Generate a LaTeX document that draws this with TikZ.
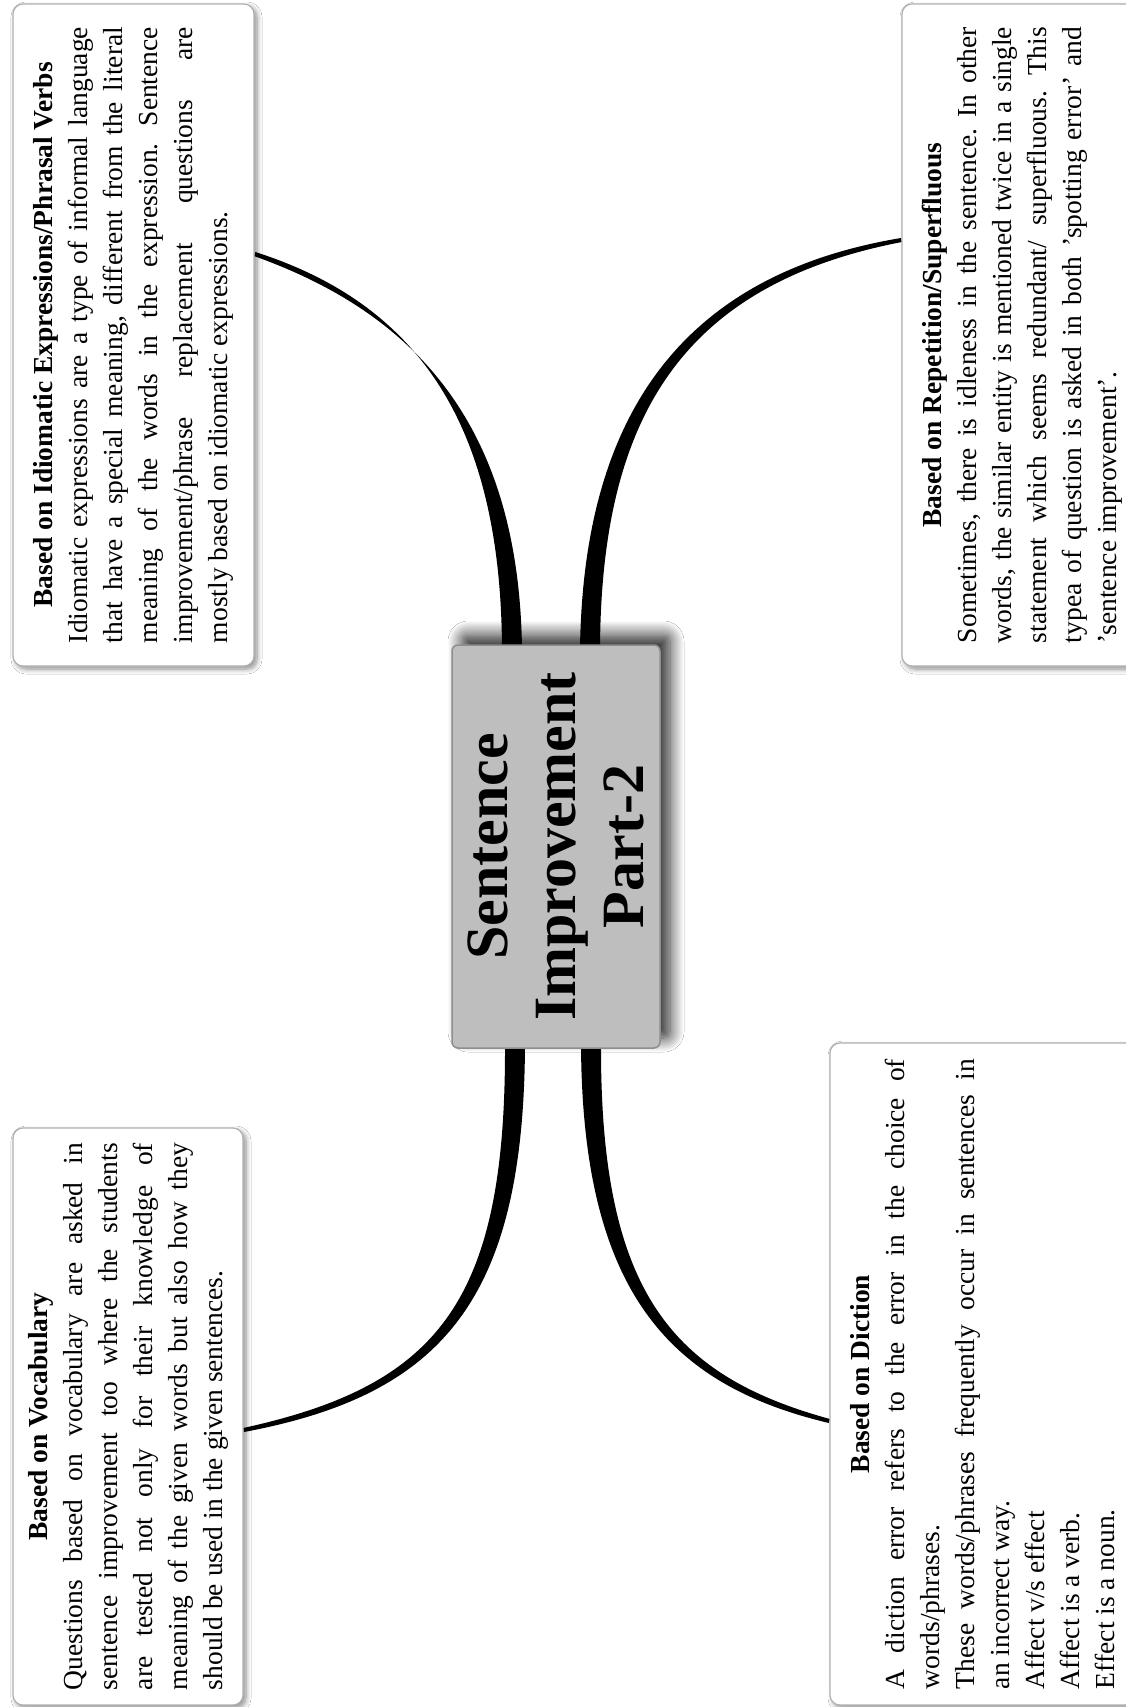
\documentclass[tikz,border=0pt]{standalone}
\usepackage{fontspec}
\setmainfont{Liberation Serif}
\usetikzlibrary{calc,shadows.blur}
\pgfdeclarelayer{bg}
\pgfsetlayers{bg,main}
\definecolor{hubfill}{HTML}{BEBEBE}
\definecolor{hubline}{HTML}{8E8E8E}
\definecolor{boxline}{HTML}{B0B0B0}
\tikzset{
  leaf/.style={rotate=90, draw=boxline, fill=white, line width=1.2pt,
    rounded corners=10pt, align=justify, inner ysep=0pt,
    font=\fontsize{27.5}{35}\selectfont\frenchspacing,
    blur shadow={shadow xshift=3pt, shadow yshift=-3pt, shadow blur radius=5pt,
      shadow blur steps=8, shadow opacity=45}},
  hubbox/.style={rotate=90, draw=hubline, fill=hubfill, line width=1.5pt,
    rounded corners=6pt, align=center, inner sep=0pt,
    font=\fontsize{60}{68}\selectfont\bfseries,
    blur shadow={shadow xshift=10pt, shadow yshift=10pt, shadow blur radius=14pt,
      shadow blur steps=14, shadow opacity=85}},
  conn/.style={fill=black}
}
\newcommand\boxtitle[1]{\makebox[\linewidth]{\bfseries #1}\par}
\begin{document}
\begin{tikzpicture}[x=1pt,y=-1pt]
\useasboundingbox (0,0) rectangle (1126,1707);

% central topic
\node[hubbox, minimum width=403pt, minimum height=208pt] (hub) at (556,846.5)
  {Sentence\\Improvement\\Part-2};

% branch boxes
\node[leaf, text width=616pt, inner xsep=23pt, minimum height=241pt] (A) at (133.5,335) {%
\boxtitle{Based on Idiomatic Expressions/Phrasal Verbs}%
Idiomatic expressions are a type of informal language\linebreak
that have a special meaning, different from the literal\linebreak
meaning of the words in the expression. Sentence\linebreak
improvement/phrase replacement questions are\linebreak
mostly based on idiomatic expressions.};

\node[leaf, text width=616pt, inner xsep=23pt, minimum height=241pt] (B) at (1022.5,335) {%
\boxtitle{Based on Repetition/Superfluous}%
Sometimes, there is idleness in the sentence. In other\linebreak
words, the similar entity is mentioned twice in a single\linebreak
statement which seems redundant/ superfluous. This\linebreak
typea of question is asked in both ’spotting error’ and\linebreak
’sentence improvement’.};

\node[leaf, text width=547pt, inner xsep=15pt, minimum height=230pt] (C) at (128,1416.5) {%
\boxtitle{Based on Vocabulary}%
Questions based on vocabulary are asked in\linebreak
sentence improvement too where the students\linebreak
are tested not only for their knowledge of\linebreak
meaning of the given words but also how they\linebreak
should be used in the given sentences.};

\node[leaf, text width=630pt, inner xsep=16pt, minimum height=305pt] (D) at (982.5,1374) {%
\boxtitle{Based on Diction}%
A diction error refers to the error in the choice of\linebreak
words/phrases.\par
These words/phrases frequently occur in sentences in\linebreak
an incorrect way.\par
Affect v/s effect\par
Affect is a verb.\par
Effect is a noun.};

% connector end points
\coordinate (sA) at ($(hub.east)+(-44,5)$);
\coordinate (sB) at ($(hub.east)+(34,5)$);
\coordinate (sC) at ($(hub.west)+(-41,-5)$);
\coordinate (sD) at ($(hub.west)+(35,-5)$);
\coordinate (eA) at ($(A.south)+(0,-81)$);
\coordinate (eB) at ($(B.north)+(0,-95)$);
\coordinate (eC) at ($(C.south)+(0,13.5)$);
\coordinate (eD) at ($(D.north)+(0,47)$);

% page background and tapered branches behind the boxes
\begin{pgfonlayer}{bg}
\fill[white] (0,0) rectangle (1126,1707);
\fill[conn] ($(sA)+(-10,0)$) .. controls ($(sA)+(-11,-220)$) and ($(eA)+(167.6,51.3)$) .. ($(eA)+(0.7,-2)$)
  -- ($(eA)+(-0.7,2)$) .. controls ($(eA)+(164.4,60.7)$) and ($(sA)+(7,-220)$) .. ($(sA)+(10,0)$) -- cycle;
\fill[conn] ($(sB)+(-10,0)$) .. controls ($(sB)+(-7,-230)$) and ($(eB)+(-222.9,35.1)$) .. ($(eB)+(-0.4,-2)$)
  -- ($(eB)+(0.4,2)$) .. controls ($(eB)+(-221.1,44.9)$) and ($(sB)+(11,-230)$) .. ($(sB)+(10,0)$) -- cycle;
\fill[conn] ($(sC)+(10,0)$) .. controls ($(sC)+(9,257)$) and ($(eC)+(198,-35.1)$) .. ($(eC)+(0.4,2)$)
  -- ($(eC)+(-0.4,-2)$) .. controls ($(eC)+(196,-44.9)$) and ($(sC)+(-9,257)$) .. ($(sC)+(-10,0)$) -- cycle;
\fill[conn] ($(sD)+(-10,0)$) .. controls ($(sD)+(-9,247)$) and ($(eD)+(-161.2,-36.2)$) .. ($(eD)+(-0.5,2)$)
  -- ($(eD)+(0.5,-2)$) .. controls ($(eD)+(-158.8,-45.8)$) and ($(sD)+(9,247)$) .. ($(sD)+(10,0)$) -- cycle;
\end{pgfonlayer}
\end{tikzpicture}
\end{document}
